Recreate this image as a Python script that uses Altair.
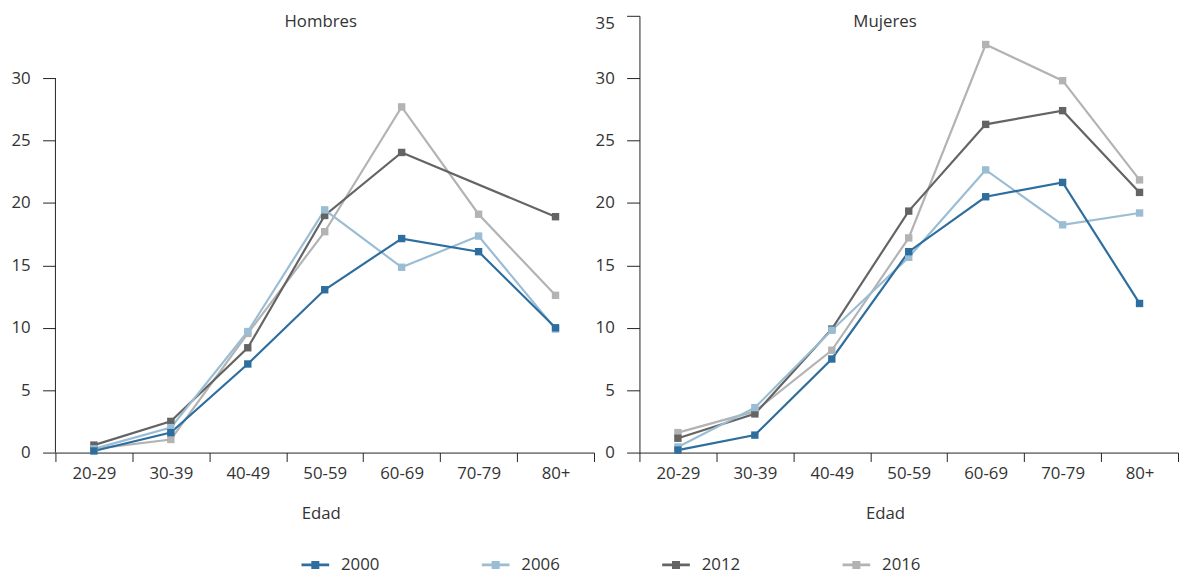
import altair as alt
import pandas as pd

ages = ["20-29", "30-39", "40-49", "50-59", "60-69", "70-79", "80+"]
years = ["2000", "2006", "2012", "2016"]
colors = ["#2E6E9E", "#9BBDD4", "#646464", "#B3B3B3"]

hombres = {
    "2000": [0.13, 1.6, 7.1, 13.05, 17.15, 16.1, 10.0],
    "2006": [0.3, 2.0, 9.7, 19.45, 14.85, 17.35, 9.9],
    "2012": [0.6, 2.5, 8.4, 19.0, 24.05, None, 18.9],
    "2016": [0.3, 1.05, 9.55, 17.7, 27.7, 19.1, 12.6],
}
mujeres = {
    "2000": [0.2, 1.4, 7.5, 16.1, 20.5, 21.65, 11.95],
    "2006": [0.45, 3.6, 9.8, 15.65, 22.65, 18.25, 19.2],
    "2012": [1.15, 3.1, 9.9, 19.35, 26.3, 27.4, 20.85],
    "2016": [1.6, 3.3, 8.2, 17.2, 32.7, 29.8, 21.85],
}

FONT = "Open Sans"
TXT = "#333333"
AX = "#222222"
W, H = 545, 442
LEGEND_SYMBOL = ("M-1,-0.1 L1,-0.1 L1,0.1 L-1,0.1 Z "
                 "M-0.29,-0.29 L0.29,-0.29 L0.29,0.29 L-0.29,0.29 Z")


def frame(series):
    rows = []
    for year in reversed(years):
        for age, v in zip(ages, series[year]):
            if v is not None:
                rows.append({"Edad": age, "Año": year, "valor": v})
    return pd.DataFrame(rows)


def panel(series, title, title_x, y_values, y_domain_line, with_legend):
    df = frame(series)
    x = alt.X(
        "Edad:N", sort=ages, bandPosition=0.5,
        scale=alt.Scale(type="band", domain=ages, paddingInner=0, paddingOuter=0),
        axis=alt.Axis(
            title="Edad", tickBand="extent", tickSize=9, tickColor=AX,
            domainColor=AX, labelPadding=12.5, labelBaseline="middle",
            labelAngle=0, labelFont=FONT, labelFontSize=17, labelColor=TXT,
            titleFont=FONT, titleFontSize=17, titleColor=TXT,
            titleFontWeight="normal", titleX=title_x, titleY=62,
            titleBaseline="middle", grid=False,
        ),
    )
    y = alt.Y(
        "valor:Q",
        scale=alt.Scale(domain=[0, 35], nice=False, zero=True),
        axis=alt.Axis(
            title=None, values=y_values, tickSize=13, tickColor=AX,
            domain=y_domain_line, domainColor=AX, labelPadding=12.5,
            labelFont=FONT, labelFontSize=17, labelColor=TXT, grid=False,
            labelBaseline={"condition": {"test": "datum.value == 35", "value": "top"},
                           "value": "middle"},
        ),
    )
    if with_legend:
        legend = alt.Legend(
            title=None, orient="none", direction="horizontal",
            legendX=249, legendY=541.7, symbolType=LEGEND_SYMBOL, symbolSize=784,
            symbolStrokeWidth=0, symbolOpacity=1, labelFont=FONT,
            labelFontSize=17, labelColor=TXT, labelOffset=12, columnPadding=103.5,
        )
    else:
        legend = None
    cscale = alt.Scale(domain=years, range=colors)
    base = alt.Chart(df)
    lines = base.mark_line(strokeWidth=2.2).encode(
        x=x, y=y, color=alt.Color("Año:N", scale=cscale, legend=legend),
    )
    pts = base.mark_point(shape="square", filled=True, size=56, opacity=1).encode(
        x=x, y=y, color=alt.Color("Año:N", scale=cscale, legend=legend),
    )
    ttl = alt.Chart(pd.DataFrame({"t": [title]})).mark_text(
        font=FONT, fontSize=17, color=TXT, align="center", baseline="middle"
    ).encode(text="t:N", x=alt.value(title_x), y=alt.value(6.3))
    layers = []
    if not y_domain_line:
        rule = alt.Chart(pd.DataFrame({"a": [0]})).mark_rule(
            color=AX, strokeWidth=1
        ).encode(x=alt.value(0), y=alt.datum(0), y2=alt.datum(30))
        layers.append(rule)
    layers += [lines, pts, ttl]
    return alt.layer(*layers).properties(width=W, height=H)


left = panel(hombres, "Hombres", 268.5, [0, 5, 10, 15, 20, 25, 30], False, True)
right = panel(mujeres, "Mujeres", 248.5, [0, 5, 10, 15, 20, 25, 30, 35], True, False)

chart = alt.hconcat(left, right, spacing=46, bounds="flush").properties(
    padding={"left": 3, "top": 1.5, "right": 0, "bottom": 0}
).configure(font=FONT).configure_view(stroke=None)

chart.save("out.html", embed_options={"renderer": "svg", "actions": False})
